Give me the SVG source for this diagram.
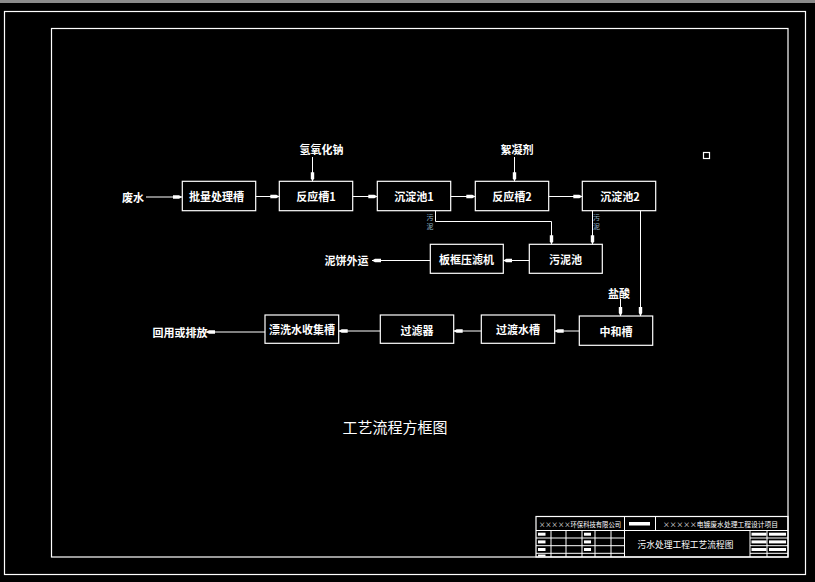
<svg xmlns="http://www.w3.org/2000/svg" width="815" height="582" viewBox="0 0 815 582">
<style>
.bg{fill:#000}
.fr{fill:none;stroke:#fff;stroke-width:1.2}
.bx{fill:none;stroke:#fff;stroke-width:1.2}
.ln{fill:none;stroke:#fff;stroke-width:1}
.ca{stroke:#fff;stroke-width:1;fill:none;marker-end:url(#ah)}
.t{font-family:"Noto Sans CJK SC","Noto Sans",sans-serif;font-size:11px;font-weight:bold;fill:#fff;text-anchor:middle;dominant-baseline:central}
.ttl{font-family:"Noto Sans CJK SC","Noto Sans",sans-serif;font-size:15px;fill:#fff;text-anchor:middle;dominant-baseline:central}
.sm{font-family:"Noto Sans CJK SC","Noto Sans",sans-serif;font-size:7px;fill:#9bc;text-anchor:middle;dominant-baseline:central}
.tb{font-family:"Noto Sans CJK SC","Noto Sans",sans-serif;font-size:7px;fill:#fff;dominant-baseline:central}
.blk{fill:#fff}
</style>
<defs>
<marker id="ah" markerUnits="userSpaceOnUse" markerWidth="9" markerHeight="5" viewBox="0 0 9 5" refX="9" refY="2.5" orient="auto">
<path d="M0,0.8 L6,0.8 L9,2.5 L6,4.2 L0,4.2 z" fill="#fff"/>
</marker>
</defs>
<rect class="bg" x="0" y="0" width="815" height="582"/>
<rect x="0" y="0" width="815" height="3" fill="#8a8a8a"/>
<g id="frame">
<rect class="fr" x="4.5" y="11.5" width="801" height="563"/>
<rect class="fr" x="51.5" y="28.5" width="736.5" height="528.5"/>
<rect class="fr" x="703.5" y="152.5" width="6" height="6"/>
</g>
<g id="connectors">
<line class="ca" x1="146" y1="197" x2="182" y2="197"/>
<line class="ca" x1="255.7" y1="196.5" x2="279.3" y2="196.5"/>
<line class="ca" x1="352.7" y1="196.5" x2="377.3" y2="196.5"/>
<line class="ca" x1="450.7" y1="196.5" x2="475.3" y2="196.5"/>
<line class="ca" x1="548.7" y1="196.5" x2="582.3" y2="196.5"/>
<line class="ca" x1="312.5" y1="157" x2="312.5" y2="181.3"/>
<line class="ca" x1="514.5" y1="157" x2="514.5" y2="181.3"/>
<polyline class="ca" points="435.5,210.7 435.5,221.5 551.5,221.5 551.5,244.3"/>
<line class="ca" x1="592.5" y1="210.7" x2="592.5" y2="244.3"/>
<line class="ca" x1="529.3" y1="260.5" x2="503.3" y2="260.5"/>
<line class="ca" x1="430.3" y1="260.5" x2="372" y2="260.5"/>
<line class="ca" x1="640.5" y1="210.7" x2="640.5" y2="316"/>
<line class="ca" x1="620.5" y1="299" x2="620.5" y2="316"/>
<line class="ca" x1="579.3" y1="331" x2="554.7" y2="331"/>
<line class="ca" x1="481.3" y1="331" x2="453.7" y2="331"/>
<line class="ca" x1="380.3" y1="331" x2="338.7" y2="331"/>
<line class="ca" x1="265" y1="332" x2="206" y2="332"/>
</g>
<g id="labels">
<text class="t" x="133" y="197">废水</text>
<text class="t" x="321.5" y="149">氢氧化钠</text>
<text class="t" x="517" y="149">絮凝剂</text>
<text class="t" x="346.5" y="260">泥饼外运</text>
<text class="t" x="619" y="292.5">盐酸</text>
<text class="t" x="180" y="332">回用或排放</text>
<text class="sm" x="430" y="217">污</text>
<text class="sm" x="430" y="225.5">泥</text>
<text class="sm" x="596.5" y="217">污</text>
<text class="sm" x="596.5" y="225.5">泥</text>
</g>
<g id="n1"><rect class="bx" x="182.3" y="181.3" width="73.4" height="29.4"/><text class="t" x="216.5" y="196">批量处理槽</text></g>
<g id="n2"><rect class="bx" x="279.3" y="181.3" width="73.4" height="29.4"/><text class="t" x="316" y="196">反应槽1</text></g>
<g id="n3"><rect class="bx" x="377.3" y="181.3" width="73.4" height="29.4"/><text class="t" x="414" y="196">沉淀池1</text></g>
<g id="n4"><rect class="bx" x="475.3" y="181.3" width="73.4" height="29.4"/><text class="t" x="512" y="196">反应槽2</text></g>
<g id="n5"><rect class="bx" x="582.3" y="181.3" width="73.4" height="29.4"/><text class="t" x="620" y="196">沉淀池2</text></g>
<g id="n6"><rect class="bx" x="529.3" y="244.3" width="73" height="29"/><text class="t" x="565.5" y="259">污泥池</text></g>
<g id="n7"><rect class="bx" x="430.3" y="244.3" width="73" height="29"/><text class="t" x="466.5" y="259">板框压滤机</text></g>
<g id="n8"><rect class="bx" x="579.3" y="316" width="73.4" height="29.3"/><text class="t" x="616" y="330.5">中和槽</text></g>
<g id="n9"><rect class="bx" x="481.3" y="315" width="73.4" height="28.3"/><text class="t" x="518" y="329">过渡水槽</text></g>
<g id="n10"><rect class="bx" x="380.3" y="315" width="73.4" height="28.3"/><text class="t" x="417" y="330">过滤器</text></g>
<g id="n11"><rect class="bx" x="265" y="315" width="73.7" height="28.3"/><text class="t" x="302" y="329">漂洗水收集槽</text></g>
<text class="ttl" x="395" y="426">工艺流程方框图</text>
<g id="titleblock">
<rect class="fr" x="536" y="516.5" width="252" height="40.5"/>
<line class="ln" x1="536" y1="530.5" x2="788" y2="530.5"/>
<line class="ln" x1="624.5" y1="516.5" x2="624.5" y2="557"/>
<line class="ln" x1="655.5" y1="516.5" x2="655.5" y2="530.5"/>
<line class="ln" x1="551" y1="530.5" x2="551" y2="557"/>
<line class="ln" x1="566" y1="530.5" x2="566" y2="557"/>
<line class="ln" x1="582" y1="530.5" x2="582" y2="557"/>
<line class="ln" x1="595" y1="530.5" x2="595" y2="557"/>
<line class="ln" x1="611" y1="530.5" x2="611" y2="557"/>
<line class="ln" x1="536" y1="538" x2="624.5" y2="538"/>
<line class="ln" x1="536" y1="545.7" x2="624.5" y2="545.7"/>
<line class="ln" x1="536" y1="553.3" x2="624.5" y2="553.3"/>
<line class="ln" x1="750" y1="530.5" x2="750" y2="557"/>
<line class="ln" x1="767" y1="530.5" x2="767" y2="557"/>
<line class="ln" x1="750" y1="538" x2="788" y2="538"/>
<line class="ln" x1="750" y1="545.7" x2="788" y2="545.7"/>
<line class="ln" x1="750" y1="553.3" x2="788" y2="553.3"/>
<text class="tb" x="539" y="524" textLength="82" lengthAdjust="spacingAndGlyphs">×××××环保科技有限公司</text>
<rect class="blk" x="629" y="522" width="21" height="3.5"/>
<text class="tb" x="663" y="524" textLength="115" lengthAdjust="spacingAndGlyphs">×××××电镀废水处理工程设计项目</text>
<text class="tb" x="637.5" y="544" style="font-size:9px" textLength="96" lengthAdjust="spacingAndGlyphs">污水处理工程工艺流程图</text>
<rect class="blk" x="538" y="532.7" width="7.5" height="3"/>
<rect class="blk" x="538" y="540.4" width="7.5" height="3"/>
<rect class="blk" x="538" y="548" width="7.5" height="3"/>
<rect class="blk" x="538" y="554.5" width="7.5" height="2"/>
<rect class="blk" x="584" y="532.7" width="7" height="3"/>
<rect class="blk" x="584" y="540.4" width="7" height="3"/>
<rect class="blk" x="584" y="548" width="7" height="3"/>
<rect class="blk" x="751.5" y="532.7" width="15" height="3"/>
<rect class="blk" x="769" y="532.7" width="17" height="3"/>
<rect class="blk" x="751.5" y="540.4" width="15" height="3"/>
<rect class="blk" x="769" y="540.4" width="17" height="3"/>
<rect class="blk" x="751.5" y="548" width="15" height="3"/>
<rect class="blk" x="769" y="548" width="17" height="3"/>
</g>
</svg>
